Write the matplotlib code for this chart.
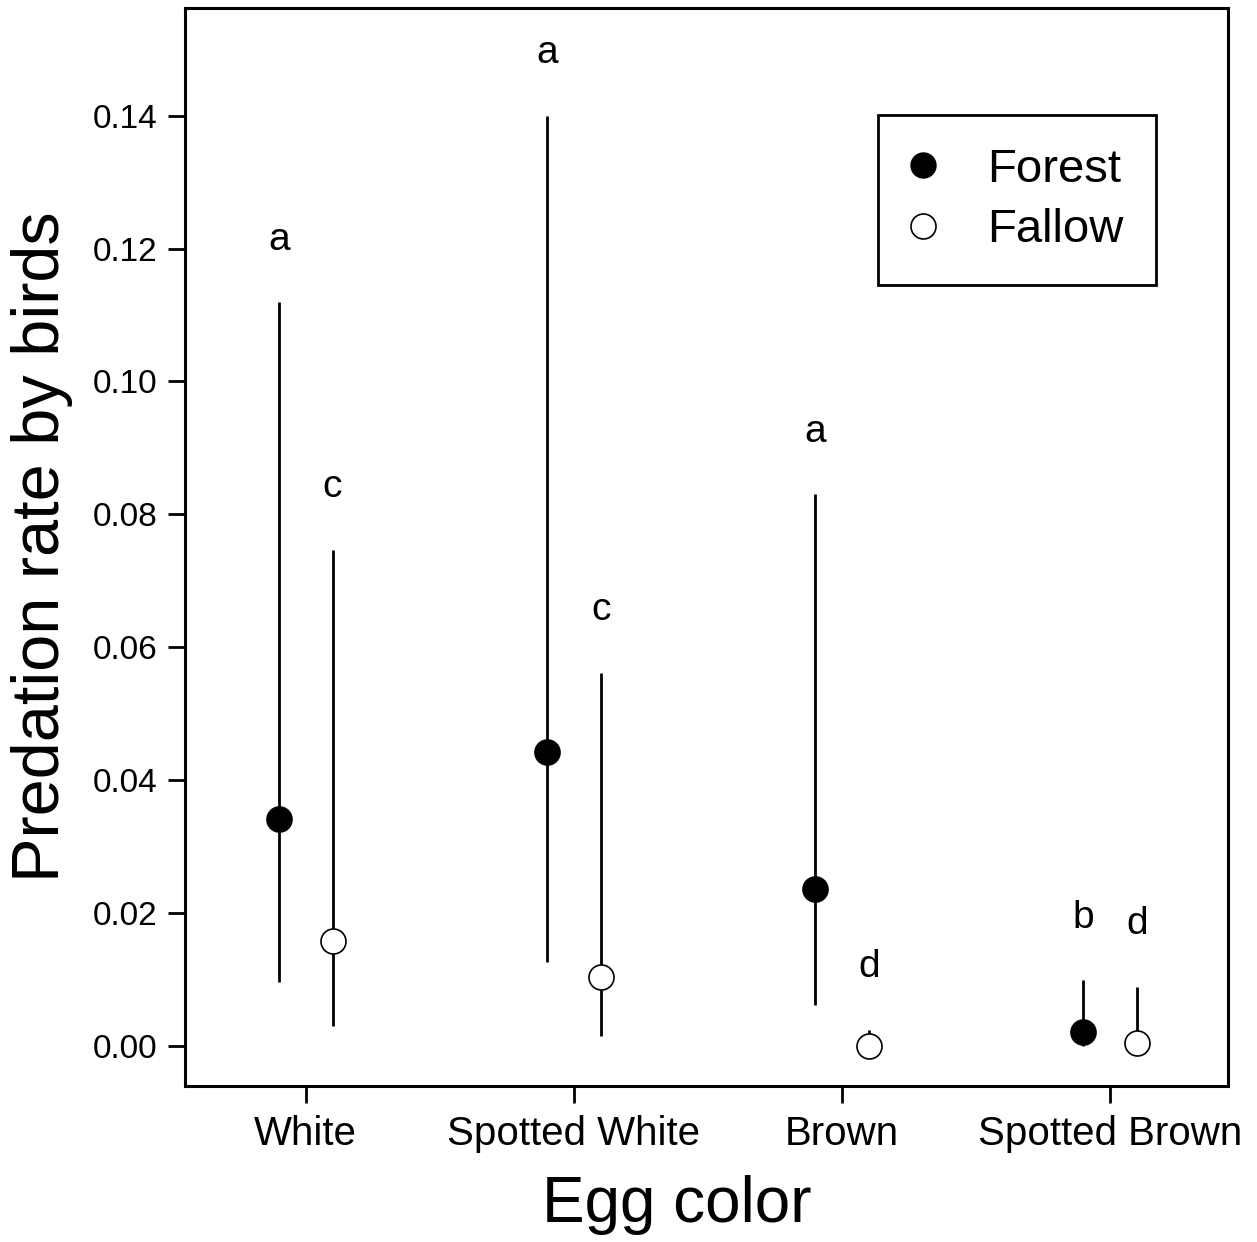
import numpy as np
import matplotlib
matplotlib.use('Agg')
import matplotlib.pyplot as plt
from matplotlib.lines import Line2D

plt.rcParams['font.family'] = ['Liberation Sans', 'DejaVu Sans']

# Données
categories = ['White', 'Spotted White', 'Brown', 'Spotted Brown']
forest_mean = [0.0341, 0.0442, 0.0236, 0.0021]
forest_low = [0.0096, 0.0126, 0.0062, 0.0000]
forest_high = [0.1119, 0.1400, 0.0830, 0.0099]
forest_letters = ['a', 'a', 'a', 'b']
fallow_mean = [0.0158, 0.0104, 0.0000, 0.0005]
fallow_low = [0.0030, 0.0015, 0.0000, 0.0000]
fallow_high = [0.0747, 0.0561, 0.0024, 0.0089]
fallow_letters = ['c', 'c', 'd', 'd']

x = np.arange(len(categories))
off = 0.1

fig = plt.figure(figsize=(12.57, 12.42), dpi=100)
ax = fig.add_axes([0.1472, 0.1256, 0.8298, 0.868])


def serie(xpos, mean, low, high, letters, face):
    mean = np.array(mean)
    yerr = [mean - np.array(low), np.array(high) - mean]
    ax.errorbar(xpos, mean, yerr=yerr, fmt='none', ecolor='black',
                elinewidth=2, capsize=0, zorder=2)
    ax.plot(xpos, mean, 'o', markersize=18, markerfacecolor=face,
            markeredgecolor='black', markeredgewidth=1.2, linestyle='none',
            zorder=3)
    for xi, h, lab in zip(xpos, high, letters):
        ax.annotate(lab, (xi, h), xytext=(0, 38), textcoords='offset points',
                    ha='center', va='baseline', fontsize=28)


serie(x - off, forest_mean, forest_low, forest_high, forest_letters, 'black')
serie(x + off, fallow_mean, fallow_low, fallow_high, fallow_letters, 'white')

ax.set_xlim(-0.45, 3.44)
ax.set_ylim(-0.006, 0.1562)
ax.set_xticks(x)
ax.set_xticklabels(categories, fontsize=29)
yt = np.arange(0, 0.141, 0.02)
ax.set_yticks(yt)
ax.set_yticklabels(['%.2f' % v for v in yt], fontsize=24)
ax.tick_params(axis='both', direction='out', length=12, width=2)
ax.tick_params(axis='x', pad=9)
ax.tick_params(axis='y', pad=8)
for sp in ax.spines.values():
    sp.set_linewidth(2.2)

ax.set_xlabel('Egg color', fontsize=46, labelpad=12)
ax.xaxis.set_label_coords(0.471, -0.083)
ax.set_ylabel('Predation rate by birds', fontsize=48, labelpad=14)

handles = [
    Line2D([], [], marker='o', linestyle='none', markersize=18,
           markerfacecolor='black', markeredgecolor='black', label='Forest'),
    Line2D([], [], marker='o', linestyle='none', markersize=18,
           markerfacecolor='white', markeredgecolor='black',
           markeredgewidth=1.2, label='Fallow'),
]
leg = ax.legend(handles=handles, loc='upper right', bbox_to_anchor=(0.931, 0.901),
                borderaxespad=0, fontsize=34, frameon=True, fancybox=False,
                edgecolor='black', framealpha=1, handletextpad=1.1,
                labelspacing=0.35, borderpad=0.7, handlelength=0.5)
leg.get_frame().set_linewidth(2)

plt.savefig('out.png', dpi=100)
